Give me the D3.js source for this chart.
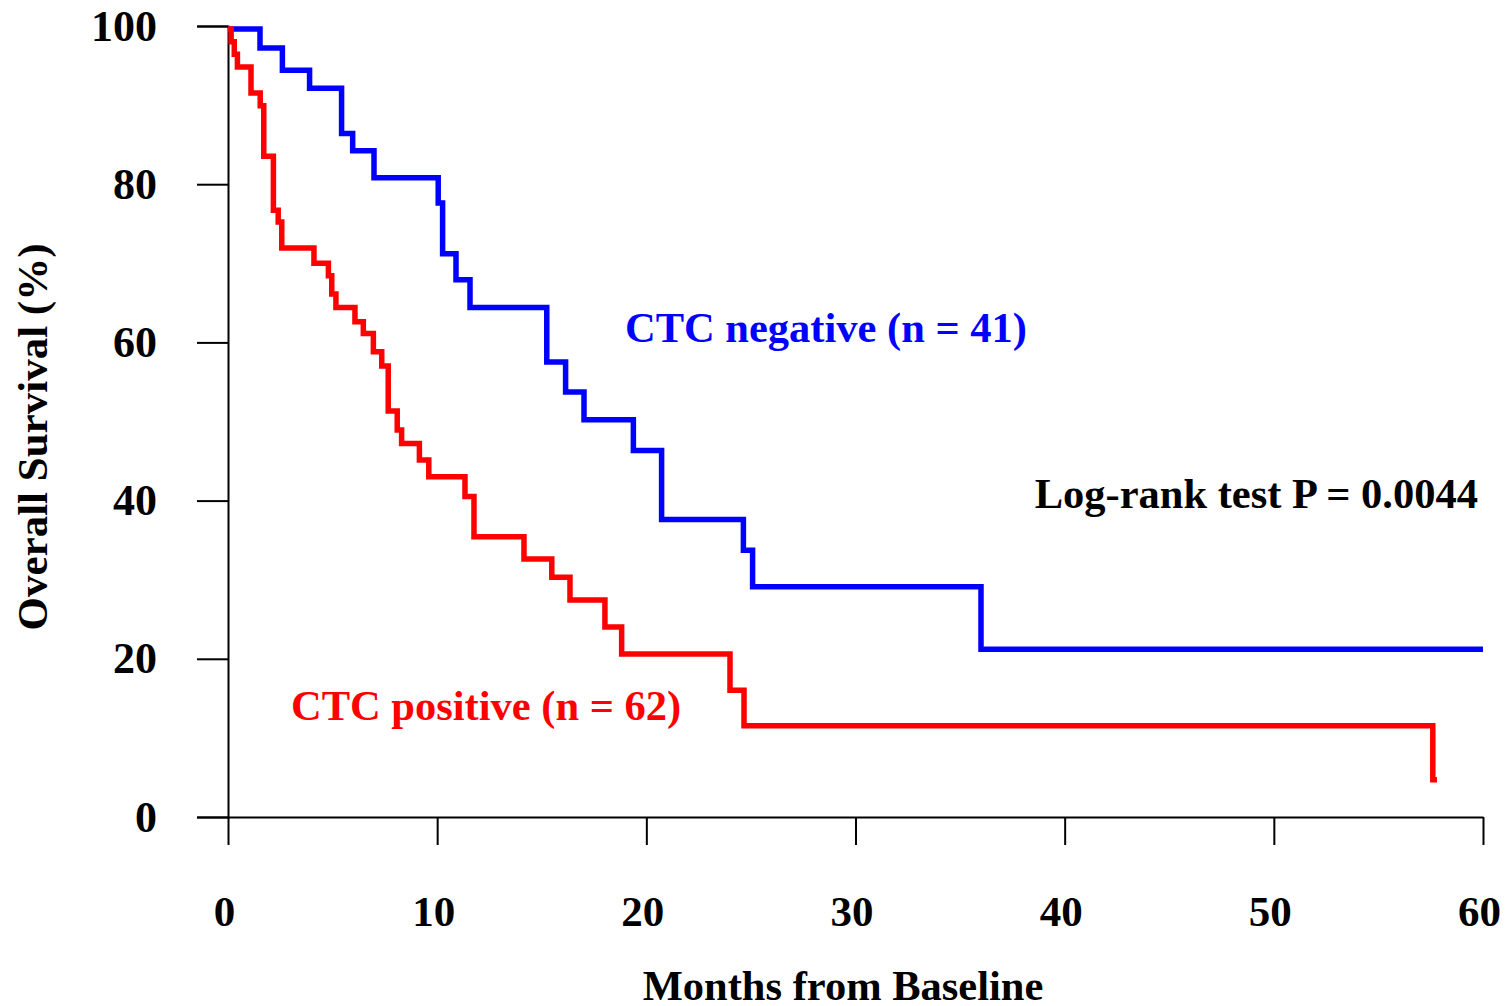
<!DOCTYPE html>
<html>
<head>
<meta charset="utf-8">
<script src="https://cdn.jsdelivr.net/npm/d3@7"></script>
<style>
  body { margin: 0; background: #fff; }
  text { font-family: "Liberation Serif", "Times New Roman", serif; font-weight: bold; }
</style>
</head>
<body>
<div id="chart"></div>
<script>
const width = 1507;
const height = 1006;

// CTC negative (n = 41)
const negMonths = [0, 1.53, 2.6, 3.9, 5.43, 5.96, 6.98, 10.05, 10.26, 10.9, 11.57, 15.24, 16.14, 17.02, 19.38, 20.73, 24.64, 25.08, 36.0, 60];
const negSurv   = [100, 97.6, 94.8, 92.5, 86.8, 84.6, 81.2, 78.0, 71.6, 68.3, 64.8, 57.9, 54.1, 50.6, 46.7, 38.0, 34.1, 29.5, 21.6, 21.6];

// CTC positive (n = 62)
const posMonths = [0, 0.15, 0.3, 0.45, 1.1, 1.54, 1.71, 2.17, 2.4, 2.57, 4.11, 4.8, 4.96, 5.16, 6.07, 6.47, 6.95, 7.35, 7.66, 8.09, 8.3, 9.15, 9.6, 11.33, 11.76, 14.15, 15.48, 16.35, 18.02, 18.82, 24.0, 24.67, 57.6, 57.8];
const posSurv   = [100, 98.4, 96.8, 95.2, 91.9, 90.3, 83.9, 77.1, 75.6, 72.3, 70.4, 68.8, 66.5, 64.8, 63.0, 61.5, 59.2, 57.4, 51.7, 49.3, 47.6, 45.5, 43.4, 40.9, 35.8, 33.0, 30.7, 27.8, 24.4, 21.0, 16.4, 11.9, 5.1, 5.1];

const xTicks = [0, 10, 20, 30, 40, 50, 60];
const yTicks = [0, 20, 40, 60, 80, 100];

function createChart(){
    const svg = d3.select('#chart')
        .append('svg')
        .attr('width', width)
        .attr('height', height);

    const xScale = d3.scaleLinear().domain([0, 60]).range([228, 1483]);
    const yScale = d3.scaleLinear().domain([0, 100]).range([817, 26]);

    // y axis, ticks to the left
    const yAxis = d3.axisLeft(yScale).tickValues(yTicks).tickSize(31).tickPadding(40);
    const gy = svg.append('g')
        .attr('transform', `translate(${xScale(0)},0)`)
        .call(yAxis);
    gy.select('.domain').attr('stroke-width', 2);
    gy.selectAll('.tick line').attr('stroke-width', 2);
    gy.selectAll('.tick text')
        .style('font-size', '44px')
        .attr('fill', '#000');

    // x axis, ticks downward
    const xAxis = d3.axisBottom(xScale).tickValues(xTicks).tickSize(28).tickSizeOuter(0).tickPadding(50);
    const gx = svg.append('g')
        .attr('transform', `translate(0,${yScale(0)})`)
        .call(xAxis);
    gx.select('.domain').attr('stroke-width', 2);
    gx.selectAll('.tick line').attr('stroke-width', 2);
    gx.selectAll('.tick text')
        .style('font-size', '43px')
        .attr('fill', '#000')
        .attr('dx', -4);

    const line = d3.line()
        .x(d => xScale(d[0]))
        .y(d => yScale(d[1]) + 3)
        .curve(d3.curveStepAfter);

    svg.append('path')
        .datum(negMonths.map((m, i) => [m, negSurv[i]]))
        .attr('d', line)
        .attr('fill', 'none')
        .attr('stroke', '#0000ff')
        .attr('stroke-width', 5.5);

    svg.append('path')
        .datum(posMonths.map((m, i) => [m, posSurv[i]]))
        .attr('d', line)
        .attr('fill', 'none')
        .attr('stroke', '#ff0000')
        .attr('stroke-width', 5.5);

    // annotations
    svg.append('text')
        .attr('x', 625).attr('y', 342)
        .attr('fill', '#0000ff')
        .style('font-size', '42.5px')
        .text('CTC negative (n = 41)');

    svg.append('text')
        .attr('x', 291).attr('y', 720)
        .attr('fill', '#ff0000')
        .style('font-size', '42.5px')
        .text('CTC positive (n = 62)');

    svg.append('text')
        .attr('x', 1478).attr('y', 508)
        .attr('text-anchor', 'end')
        .attr('fill', '#000')
        .style('font-size', '42.5px')
        .text('Log-rank test P = 0.0044');

    svg.append('text')
        .attr('x', 843).attr('y', 1000)
        .attr('text-anchor', 'middle')
        .attr('fill', '#000')
        .style('font-size', '42.5px')
        .text('Months from Baseline');

    svg.append('text')
        .attr('transform', 'rotate(-90)')
        .attr('x', -437).attr('y', 47)
        .attr('text-anchor', 'middle')
        .attr('fill', '#000')
        .style('font-size', '43px')
        .text('Overall Survival (%)');
}

createChart();
</script>
</body>
</html>
